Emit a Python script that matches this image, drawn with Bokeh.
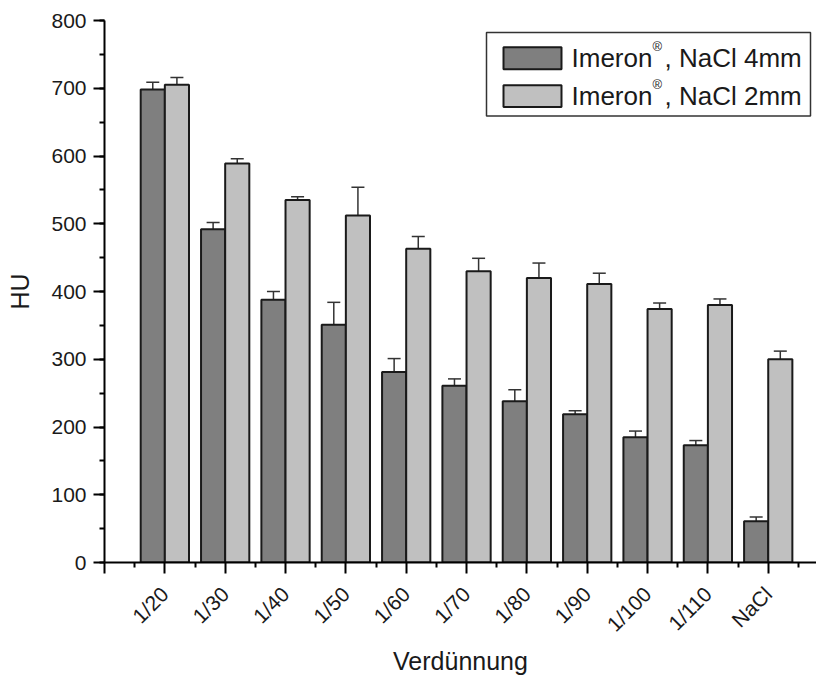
import math
import numpy as np
from bokeh.plotting import figure
from bokeh.models import (Range1d, FixedTicker, SingleIntervalTicker, Whisker, TeeHead,
                          ColumnDataSource, BoxAnnotation, Label)
from bokeh.embed import file_html
from bokeh.resources import INLINE

# --- data -------------------------------------------------------------
categories = ["1/20", "1/30", "1/40", "1/50", "1/60", "1/70", "1/80", "1/90", "1/100", "1/110", "NaCl"]
hu_4mm = [698, 492, 388, 351, 281, 261, 238, 219, 185, 173, 61]
err_4mm = [11, 10, 12, 33, 20, 10, 17, 5, 9, 7, 6]
hu_2mm = [705, 589, 535, 512, 463, 430, 420, 411, 374, 380, 300]
err_2mm = [11, 7, 5, 42, 18, 19, 22, 16, 9, 9, 12]
y_ticks = list(range(0, 801, 100))

series_names = ["NaCl 4mm", "NaCl 2mm"]

# --- styling ----------------------------------------------------------
FONT = "Liberation Sans"
DARK = "#7f7f7f"
LIGHT = "#c0c0c0"
EDGE = "#1a1a1a"
TEXT = "#1a1a1a"

W, H = 816, 677
B_LEFT, B_RIGHT, B_TOP, B_BOTTOM = 104, 0, 20, 112
FRAME_W = W - B_LEFT - B_RIGHT
FRAME_H = H - B_TOP - B_BOTTOM
X_END = 11.8
Y_END = 800
BAR_W = 0.4

idx = np.arange(1, len(categories) + 1)

src = ColumnDataSource(dict(
    x4=idx - BAR_W / 2, v4=hu_4mm, u4=np.array(hu_4mm) + np.array(err_4mm),
    x2=idx + BAR_W / 2, v2=hu_2mm, u2=np.array(hu_2mm) + np.array(err_2mm),
))

p = figure(width=W, height=H, output_backend="svg", toolbar_location=None,
           x_range=Range1d(0, X_END), y_range=Range1d(0, Y_END),
           min_border_left=B_LEFT, min_border_right=B_RIGHT,
           min_border_top=B_TOP, min_border_bottom=B_BOTTOM)
p.outline_line_color = None
p.grid.visible = False
p.background_fill_color = "white"
p.border_fill_color = "white"

# bars
p.vbar(x="x4", top="v4", bottom=0, width=BAR_W, source=src,
       fill_color=DARK, line_color=EDGE, line_width=2)
p.vbar(x="x2", top="v2", bottom=0, width=BAR_W, source=src,
       fill_color=LIGHT, line_color=EDGE, line_width=2)

# upper error bars
for xb, lo, up in (("x4", "v4", "u4"), ("x2", "v2", "u2")):
    p.add_layout(Whisker(source=src, base=xb, lower=lo, upper=up, dimension="height",
                         line_color="#333333", line_width=1.5, lower_head=None,
                         upper_head=TeeHead(size=13, line_color="#333333", line_width=1.5)))

# axes
xa = p.xaxis[0]
xa.ticker = FixedTicker(ticks=list(range(0, len(categories) + 2)),
                        minor_ticks=[i + 0.5 for i in range(0, len(categories) + 1)])
overrides = {0: ""}
overrides.update({int(i): c for i, c in zip(idx, categories)})
overrides[len(categories) + 1] = ""
xa.major_label_overrides = overrides
xa.major_label_orientation = math.pi / 4
xa.axis_label = "Verdünnung"

ya = p.yaxis[0]
ya.ticker = SingleIntervalTicker(interval=100, num_minor_ticks=2)
ya.axis_label = "HU"

for ax in (xa, ya):
    ax.axis_line_width = 2
    ax.axis_line_color = "black"
    ax.major_tick_line_width = 2
    ax.minor_tick_line_width = 2
    ax.major_tick_line_color = "black"
    ax.minor_tick_line_color = "black"
    ax.major_tick_in = 0
    ax.minor_tick_in = 0
    ax.major_tick_out = 11
    ax.minor_tick_out = 5
    ax.major_label_text_font = FONT
    ax.major_label_text_font_size = "21px"
    ax.major_label_text_color = TEXT
    ax.axis_label_text_font = FONT
    ax.axis_label_text_font_size = "25px"
    ax.axis_label_text_font_style = "normal"
    ax.axis_label_text_color = TEXT
ya.major_label_standoff = 7
xa.major_label_standoff = 17
xa.axis_label_standoff = 0
ya.axis_label_standoff = 14


# legend, laid out in pixel offsets from the canvas top-left
def dx(px):
    return (px - B_LEFT) * X_END / FRAME_W


def dy(py):
    return (B_TOP + FRAME_H - py) * Y_END / FRAME_H


p.add_layout(BoxAnnotation(left=dx(486), right=dx(810), top=dy(32), bottom=dy(116),
                           fill_color="white", fill_alpha=1.0,
                           line_color="#333333", line_alpha=1.0, line_width=1.5))

row_mid = [58, 96]
for k, (name, color) in enumerate(zip(series_names, (DARK, LIGHT))):
    c = row_mid[k]
    p.add_layout(BoxAnnotation(left=dx(503), right=dx(561), top=dy(c - 11), bottom=dy(c + 11),
                               fill_color=color, fill_alpha=1.0,
                               line_color=EDGE, line_alpha=1.0, line_width=2))
    p.add_layout(Label(x=dx(571), y=dy(c), text="Imeron", text_font=FONT,
                       text_font_size="26px", text_color=TEXT,
                       text_baseline="middle", text_align="left"))
    p.add_layout(Label(x=dx(652), y=dy(c - 12), text="®", text_font=FONT,
                       text_font_size="13px", text_color=TEXT,
                       text_baseline="middle", text_align="left"))
    p.add_layout(Label(x=dx(664), y=dy(c), text=", " + name, text_font=FONT,
                       text_font_size="26px", text_color=TEXT,
                       text_baseline="middle", text_align="left"))

open("out.html", "w").write(file_html(p, INLINE))
